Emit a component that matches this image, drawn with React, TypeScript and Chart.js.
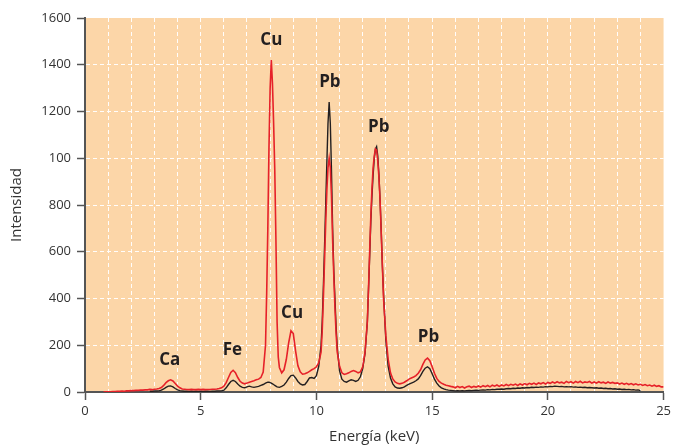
import React, { useEffect, useRef } from 'react';
import { Chart, registerables } from 'chart.js';

Chart.register(...registerables);

// Energy axis (keV) – finer spacing around the sharp peaks
const energyKeV = [
  0.8, 0.9,
  1.0, 1.1, 1.2, 1.3, 1.4, 1.5, 1.6, 1.7, 1.8, 1.9,
  2.0, 2.1, 2.2, 2.3, 2.4, 2.5, 2.6, 2.7, 2.8, 2.9,
  3.0, 3.1, 3.2, 3.3, 3.4, 3.5, 3.6, 3.7, 3.8, 3.9,
  4.0, 4.1, 4.2, 4.3, 4.4, 4.5, 4.6, 4.7, 4.8, 4.9,
  5.0, 5.1, 5.2, 5.3, 5.4, 5.5, 5.6, 5.7, 5.8, 5.9,
  6.0, 6.1, 6.2, 6.3, 6.4, 6.5, 6.6, 6.7, 6.8, 6.9,
  7.0, 7.1, 7.2, 7.3, 7.4, 7.5, 7.6, 7.7, 7.8, 7.85, 7.9, 7.95,
  8.0, 8.05, 8.1, 8.15, 8.2, 8.25, 8.3, 8.35, 8.4, 8.5, 8.6, 8.7, 8.8, 8.9,
  9.0, 9.1, 9.2, 9.3, 9.4, 9.5, 9.6, 9.7, 9.8, 9.9,
  10.0, 10.1, 10.2, 10.25, 10.3, 10.35, 10.4, 10.45, 10.5, 10.55, 10.6, 10.65, 10.7, 10.75, 10.8, 10.85, 10.9,
  11.0, 11.1, 11.2, 11.3, 11.4, 11.5, 11.6, 11.7, 11.8, 11.9,
  12.0, 12.1, 12.2, 12.25, 12.3, 12.35, 12.4, 12.45, 12.5, 12.55, 12.6, 12.65, 12.7, 12.75, 12.8, 12.85, 12.9,
  13.0, 13.1, 13.2, 13.3, 13.4, 13.5, 13.6, 13.7, 13.8, 13.9,
  14.0, 14.1, 14.2, 14.3, 14.4, 14.5, 14.6, 14.7, 14.8, 14.9,
  15.0, 15.1, 15.2, 15.3, 15.4, 15.5, 15.6, 15.7, 15.8, 15.9,
  16.0, 16.1, 16.2, 16.3, 16.4, 16.5, 16.6, 16.7, 16.8, 16.9,
  17.0, 17.1, 17.2, 17.3, 17.4, 17.5, 17.6, 17.7, 17.8, 17.9,
  18.0, 18.1, 18.2, 18.3, 18.4, 18.5, 18.6, 18.7, 18.8, 18.9,
  19.0, 19.1, 19.2, 19.3, 19.4, 19.5, 19.6, 19.7, 19.8, 19.9,
  20.0, 20.1, 20.2, 20.3, 20.4, 20.5, 20.6, 20.7, 20.8, 20.9,
  21.0, 21.1, 21.2, 21.3, 21.4, 21.5, 21.6, 21.7, 21.8, 21.9,
  22.0, 22.1, 22.2, 22.3, 22.4, 22.5, 22.6, 22.7, 22.8, 22.9,
  23.0, 23.1, 23.2, 23.3, 23.4, 23.5, 23.6, 23.7, 23.8, 23.9,
  24.0, 24.1, 24.2, 24.3, 24.4, 24.5, 24.6, 24.7, 24.8, 24.9,
  25.0,
];

// Red spectrum (intensity)
const redCounts = [
  0, 1,
  1, 1, 2, 2, 3, 3, 4, 3, 5, 5,
  6, 6, 7, 7, 8, 8, 9, 9, 11, 10,
  12, 13, 15, 19, 28, 40, 48, 52, 47, 36,
  25, 18, 13, 12, 11, 10, 11, 10, 10, 11,
  10, 11, 10, 11, 11, 12, 12, 13, 15, 18,
  25, 40, 62, 84, 93, 83, 62, 46, 38, 35,
  38, 42, 45, 48, 52, 55, 62, 85, 200, 420, 700, 1050,
  1300, 1420, 1320, 1150, 950, 650, 300, 150, 105, 82, 95, 140, 210, 262,
  250, 175, 112, 86, 76, 78, 82, 88, 95, 100,
  108, 125, 170, 260, 400, 560, 720, 860, 960, 1000, 960, 840, 650, 500, 360, 250, 170,
  110, 82, 75, 78, 82, 88, 92, 88, 82, 86,
  108, 170, 300, 440, 600, 750, 870, 960, 1010, 1040, 1035, 990, 920, 820, 680, 540, 400,
  240, 140, 82, 56, 43, 37, 35, 37, 42, 48,
  55, 60, 64, 70, 80, 95, 118, 137, 145, 134,
  108, 80, 58, 45, 38, 33, 29, 27, 24, 22,
  18, 24, 19, 23, 17, 22, 25, 19, 24, 21,
  26, 21, 27, 23, 28, 22, 29, 25, 30, 24,
  30, 26, 32, 27, 33, 29, 34, 28, 35, 30,
  36, 31, 37, 33, 38, 32, 39, 35, 40, 34,
  41, 37, 43, 38, 44, 39, 42, 37, 45, 40,
  44, 38, 45, 40, 46, 39, 43, 41, 45, 38,
  43, 38, 44, 39, 42, 37, 43, 38, 41, 37,
  39, 34, 38, 33, 37, 32, 36, 31, 35, 30,
  33, 28, 32, 27, 30, 25, 29, 24, 27, 22,
  22,
];

// Black spectrum (intensity)
const blackCounts = [
  null, null,
  null, null, null, null, null, null, null, null, null, null,
  null, null, null, null, null, null, null, null, 3, 3,
  4, 4, 5, 8, 13, 20, 25, 26, 22, 15,
  9, 6, 4, 3, 3, 2, 3, 2, 3, 2,
  3, 2, 3, 3, 2, 3, 3, 4, 4, 5,
  8, 18, 32, 45, 50, 45, 34, 25, 20, 18,
  22, 25, 22, 20, 22, 24, 28, 32, 38, 40, 42, 42,
  40, 38, 35, 32, 28, 25, 22, 21, 20, 24, 30, 42, 58, 70,
  72, 60, 45, 35, 30, 32, 45, 60, 62, 58,
  70, 110, 200, 300, 450, 620, 800, 980, 1150, 1240, 1150, 950, 700, 520, 400, 280, 190,
  90, 55, 45, 42, 48, 52, 50, 45, 50, 65,
  100, 165, 300, 440, 580, 730, 840, 930, 1000, 1040, 1050, 1010, 930, 820, 690, 540, 420,
  220, 110, 60, 35, 22, 17, 16, 18, 22, 28,
  34, 38, 42, 48, 56, 70, 88, 102, 108, 100,
  78, 55, 38, 26, 18, 13, 10, 8, 7, 6,
  5, 6, 5, 6, 5, 6, 7, 6, 7, 8,
  7, 8, 9, 8, 10, 9, 11, 10, 12, 12,
  13, 12, 14, 15, 14, 16, 15, 17, 16, 18,
  17, 19, 18, 20, 19, 21, 20, 22, 21, 23,
  22, 24, 23, 25, 24, 23, 24, 22, 23, 22,
  23, 21, 22, 20, 21, 19, 20, 18, 19, 18,
  17, 18, 16, 17, 15, 16, 14, 15, 13, 14,
  12, 13, 11, 12, 10, 11, 9, 10, 8, 9,
  6, null, null, null, null, null, null, null, null, null,
  null,
];

const xTickLabels = ['0', '5', '10', '15', '20', '25'];
const yTickLabels = ['0', '200', '400', '600', '800', '100', '1200', '1400', '1600'];

const peakNames = ['Ca', 'Fe', 'Cu', 'Cu', 'Pb', 'Pb', 'Pb'];
const peakLabelKeV = [3.66, 6.37, 8.05, 8.95, 10.58, 12.69, 14.84];
const peakLabelCounts = [142, 186, 1510, 344, 1330, 1138, 238];

const FONT = '"Open Sans", "Noto Sans", sans-serif';
const AXIS_GRAY = '#555555';
const TEXT_GRAY = '#333333';

const toPoints = (vals: (number | null)[]) =>
  energyKeV
    .map((e, i) => ({ x: e, y: vals[i] }))
    .filter((p) => p.y !== null && p.y !== undefined);

const backgroundPlugin = {
  id: 'plotBackground',
  beforeDraw(chart: any) {
    const { ctx, chartArea } = chart;
    if (!chartArea) return;
    ctx.save();
    ctx.fillStyle = '#FCD6A8';
    ctx.fillRect(chartArea.left, chartArea.top, chartArea.right - chartArea.left, chartArea.bottom - chartArea.top);
    ctx.restore();
  },
};

const peakLabelPlugin = {
  id: 'peakLabels',
  afterDatasetsDraw(chart: any) {
    const { ctx, scales } = chart;
    const size = 17;
    ctx.save();
    ctx.font = `bold ${size}px ${FONT}`;
    ctx.fillStyle = '#231F20';
    ctx.textAlign = 'center';
    ctx.textBaseline = 'alphabetic';
    peakNames.forEach((name, i) => {
      const x = scales.x.getPixelForValue(peakLabelKeV[i]);
      const y = scales.y.getPixelForValue(peakLabelCounts[i]);
      ctx.fillText(name, x, y + size * 0.36);
    });
    ctx.restore();
  },
};

export default function App() {
  const canvasRef = useRef<HTMLCanvasElement | null>(null);

  useEffect(() => {
    if (!canvasRef.current) return;
    const chart = new Chart(canvasRef.current, {
      type: 'line',
      data: {
        datasets: [
          {
            label: 'Rojo',
            data: toPoints(redCounts),
            borderColor: '#E62129',
            borderWidth: 1.6,
            pointRadius: 0,
            tension: 0,
            fill: false,
          },
          {
            label: 'Negro',
            data: toPoints(blackCounts),
            borderColor: '#231F20',
            borderWidth: 1.4,
            pointRadius: 0,
            tension: 0,
            fill: false,
          },
        ],
      },
      options: {
        responsive: false,
        animation: false,
        devicePixelRatio: 1,
        layout: { padding: { top: 18, right: 8, left: 0, bottom: 0 } },
        plugins: {
          legend: { display: false },
          tooltip: { enabled: false },
        },
        scales: {
          x: {
            type: 'linear',
            min: 0,
            max: 25,
            ticks: {
              stepSize: 1,
              autoSkip: false,
              maxRotation: 0,
              minRotation: 0,
              padding: 3,
              color: TEXT_GRAY,
              font: { family: FONT, size: 13 },
              callback: (v: any) => (Number(v) % 5 === 0 ? xTickLabels[Number(v) / 5] : ''),
            },
            grid: {
              color: (ctx: any) =>
                ctx.tick && (ctx.tick.value === 0 || ctx.tick.value === 25)
                  ? 'rgba(255,255,255,0)'
                  : 'rgba(255,255,255,0.95)',
              lineWidth: 1,
              tickLength: 8,
              tickWidth: 1.5,
              tickColor: (ctx: any) =>
                ctx.tick && ctx.tick.value % 5 === 0 ? AXIS_GRAY : 'rgba(0,0,0,0)',
            },
            border: { display: true, color: AXIS_GRAY, width: 2, dash: [4, 3] },
            title: {
              display: true,
              text: 'Energía (keV)',
              color: TEXT_GRAY,
              font: { family: FONT, size: 15 },
              padding: { top: 0, bottom: 0 },
            },
            afterFit: (scale: any) => {
              scale.height = 54;
            },
          },
          y: {
            type: 'linear',
            min: 0,
            max: 1600,
            ticks: {
              stepSize: 200,
              padding: 6,
              color: TEXT_GRAY,
              font: { family: FONT, size: 13 },
              callback: (v: any) => yTickLabels[Math.round(Number(v) / 200)],
            },
            grid: {
              color: (ctx: any) =>
                ctx.tick && (ctx.tick.value === 0 || ctx.tick.value === 1600)
                  ? 'rgba(255,255,255,0)'
                  : 'rgba(255,255,255,0.95)',
              lineWidth: 1,
              tickLength: 8,
              tickWidth: 1.5,
              tickColor: AXIS_GRAY,
            },
            border: { display: true, color: AXIS_GRAY, width: 2, dash: [4, 3] },
            title: {
              display: true,
              text: 'Intensidad',
              color: TEXT_GRAY,
              font: { family: FONT, size: 15 },
              padding: { top: 8, bottom: 0 },
            },
            afterFit: (scale: any) => {
              scale.width = 85;
            },
          },
        },
      },
      plugins: [backgroundPlugin, peakLabelPlugin],
    } as any);
    return () => chart.destroy();
  }, []);

  return (
    <div style={{ position: 'absolute', left: 0, top: 0, width: 674, height: 446, background: '#ffffff' }}>
      <canvas ref={canvasRef} width={674} height={446} style={{ display: 'block', width: 674, height: 446 }} />
    </div>
  );
}
